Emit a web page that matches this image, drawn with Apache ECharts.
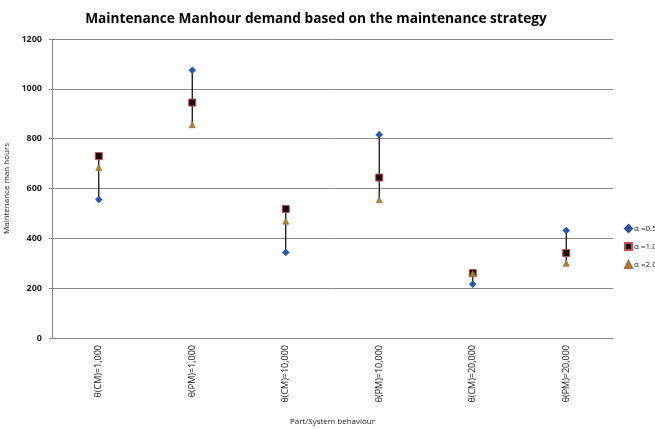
<!DOCTYPE html>
<html>
<head>
<meta charset="utf-8">
<script src="https://cdn.jsdelivr.net/npm/echarts@6/dist/echarts.min.js"></script>
<style>
  html, body { margin: 0; padding: 0; background: #fff; }
  #chart { width: 655px; height: 429px; }
</style>
</head>
<body>
<div id="chart"></div>
<script>
const categories = ['θ(CM)=1,000', 'θ(PM)=1,000', 'θ(CM)=10,000', 'θ(PM)=10,000', 'θ(CM)=20,000', 'θ(PM)=20,000']
const alpha05 = [556, 1075, 343, 816, 216, 431]
const alpha10 = [730, 945, 518, 644, 261, 341]
const alpha20 = [684, 856, 469, 555, 258, 300]
const seriesNames = ['α =0.5', 'α =1.0', 'α =2.0']

// high-low line for each category
const hiLo = categories.map((c, i) => {
  const v = [alpha05[i], alpha10[i], alpha20[i]]
  return [i, Math.min(...v), Math.max(...v)]
})

const chart = echarts.init(document.getElementById('chart'))
const font = 'Open Sans, Liberation Sans, sans-serif'

chart.setOption({
  animation: false,
  title: {
    text: 'Maintenance Manhour demand based on the maintenance strategy',
    left: 311,
    textAlign: 'center',
    top: 7,
    textStyle: { fontFamily: font, fontSize: 13.7, fontWeight: 'bold', color: '#000' }
  },
  legend: {
    orient: 'vertical',
    left: 619,
    top: 219,
    itemWidth: 7,
    itemHeight: 7,
    itemGap: 9,
    textStyle: { fontFamily: font, fontSize: 8, color: '#222', padding: [0, 0, 0, -3] },
    data: seriesNames
  },
  grid: { left: 52, right: 42, top: 39, bottom: 91, outerBoundsMode: 'none' },
  xAxis: {
    type: 'category',
    data: categories,
    name: 'Part/System behaviour',
    nameLocation: 'middle',
    nameGap: 80,
    nameTextStyle: { fontFamily: font, fontSize: 8, color: '#222' },
    axisLine: { lineStyle: { color: '#888' } },
    axisTick: { show: false },
    axisLabel: { rotate: 90, fontFamily: font, fontSize: 9, color: '#222', margin: 7 }
  },
  yAxis: {
    type: 'value',
    min: 0,
    max: 1200,
    interval: 200,
    name: 'Maintenance man hours',
    nameLocation: 'middle',
    nameGap: 38,
    nameTextStyle: { fontFamily: font, fontSize: 8, color: '#222' },
    axisLine: { show: true, lineStyle: { color: '#888' } },
    axisTick: { show: true, length: 3, lineStyle: { color: '#888' } },
    axisLabel: { fontFamily: font, fontSize: 9, fontWeight: 'bold', color: '#222', margin: 10, formatter: v => String(v) },
    splitLine: { lineStyle: { color: '#8c8c8c', width: 1 } }
  },
  series: [
    {
      type: 'custom',
      silent: true,
      z: 1,
      renderItem: function (params, api) {
        const p1 = api.coord([api.value(0), api.value(1)])
        const p2 = api.coord([api.value(0), api.value(2)])
        return {
          type: 'line',
          shape: { x1: p1[0], y1: p1[1], x2: p2[0], y2: p2[1] },
          style: { stroke: '#000', lineWidth: 1.2 }
        }
      },
      data: hiLo
    },
    {
      name: seriesNames[0],
      type: 'scatter',
      z: 3,
      symbol: 'diamond',
      symbolSize: 7,
      itemStyle: { color: '#1f5ab4', borderColor: '#2f4f8f', borderWidth: 0.5, opacity: 1 },
      data: alpha05
    },
    {
      name: seriesNames[1],
      type: 'scatter',
      z: 3,
      symbol: 'rect',
      symbolSize: 7,
      itemStyle: { color: '#1a0505', borderColor: '#c0504d', borderWidth: 1, opacity: 1 },
      data: alpha10
    },
    {
      name: seriesNames[2],
      type: 'scatter',
      z: 3,
      symbol: 'triangle',
      symbolSize: 6,
      itemStyle: { color: '#a08a2a', borderColor: '#b06a3a', borderWidth: 0.8, opacity: 1 },
      data: alpha20
    }
  ]
})
</script>
</body>
</html>
